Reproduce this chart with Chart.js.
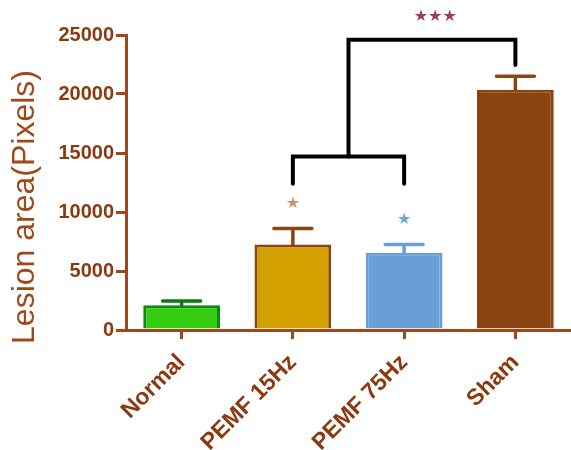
<!DOCTYPE html>
<html>
<head>
<meta charset="utf-8">
<script src="https://cdn.jsdelivr.net/npm/chart.js@4"></script>
<style>
  html, body { margin: 0; padding: 0; background: #fff; }
  #wrap { width: 571px; height: 450px; }
</style>
</head>
<body>
<div id="wrap"><canvas id="lesionChart"></canvas></div>
<script>
// ─── DATA ───
const groups = ['Normal', 'PEMF 15Hz', 'PEMF 75Hz', 'Sham'];
const lesionMean = [2100, 7250, 6550, 20350];
const lesionSem = [350, 1350, 700, 1150];
const yTicks = [0, 5000, 10000, 15000, 20000, 25000];
const yTitle = 'Lesion area(Pixels)';

// significance marks: text, category position, value
const sigLabels = ['★', '★', '★★★'];
const sigPos = [1, 2, 2.28];
const sigValue = [10700, 9350, 26550];

// brackets: [left pos, right pos, bar level, left leg end, right leg end]
const bracketLeft = [1, 1.5];
const bracketRight = [2, 3];
const bracketLevel = [14700, 24600];
const bracketLegLeft = [12400, 14700];
const bracketLegRight = [12400, 22450];

// ─── STYLE ───
const fills = ['#33cc11', '#d4a000', '#6a9fd6', '#8b4513'];
const edges = ['#0c8a10', '#8b4513', '#6a9fd6', '#8b4513'];
const errColors = ['#0c7a10', '#8b4513', '#6a9fd6', '#8b4513'];
const sigColors = ['#c8946a', '#6aa6e0', '#a03a5a'];
const axisColor = '#a0481a';
const textColor = '#8b3a10';

// ─── ERROR BARS, BRACKETS, Y TITLE ───
const extrasPlugin = {
    id: 'extras',
    afterDatasetsDraw(chart) {
        const ctx = chart.ctx;
        const x = chart.scales.x;
        const y = chart.scales.y;
        const bars = chart.getDatasetMeta(0).data;

        ctx.save();
        bars.forEach((bar, i) => {
            const top = y.getPixelForValue(lesionMean[i]);
            const capY = y.getPixelForValue(lesionMean[i] + lesionSem[i]);
            ctx.strokeStyle = errColors[i];
            ctx.lineWidth = 3.5;
            ctx.lineCap = 'round';
            ctx.beginPath();
            ctx.moveTo(bar.x, top);
            ctx.lineTo(bar.x, capY);
            ctx.moveTo(bar.x - 19, capY);
            ctx.lineTo(bar.x + 19, capY);
            ctx.stroke();
        });

        const posPx = p => x.getPixelForValue(0) + p * (x.getPixelForValue(1) - x.getPixelForValue(0));

        ctx.strokeStyle = '#000';
        ctx.lineWidth = 4;
        ctx.lineCap = 'round';
        for (let i = 0; i < bracketLeft.length; i++) {
            const xl = posPx(bracketLeft[i]);
            const xr = posPx(bracketRight[i]);
            const yb = y.getPixelForValue(bracketLevel[i]);
            ctx.beginPath();
            ctx.moveTo(xl, y.getPixelForValue(bracketLegLeft[i]));
            ctx.lineTo(xl, yb);
            ctx.lineTo(xr, yb);
            ctx.lineTo(xr, y.getPixelForValue(bracketLegRight[i]));
            ctx.stroke();
        }

        ctx.font = '16px "DejaVu Sans"';
        ctx.textAlign = 'center';
        ctx.textBaseline = 'middle';
        sigLabels.forEach((s, i) => {
            ctx.fillStyle = sigColors[i];
            ctx.fillText(s, posPx(sigPos[i]), y.getPixelForValue(sigValue[i]));
        });

        // y title sits a bit below the axis middle in the original
        ctx.translate(25, 207);
        ctx.rotate(-Math.PI / 2);
        ctx.font = '32px Arial';
        ctx.fillStyle = axisColor;
        ctx.fillText(yTitle, 0, 0);
        ctx.restore();
    }
};

// ─── CHART ───
const ctx = document.getElementById('lesionChart').getContext('2d');
new Chart(ctx, {
    type: 'bar',
    data: {
        labels: groups,
        datasets: [{
            data: lesionMean,
            backgroundColor: fills,
            borderColor: edges,
            borderWidth: 3,
            borderSkipped: 'bottom',
            barPercentage: 0.69,
            categoryPercentage: 1
        }]
    },
    options: {
        responsive: true,
        maintainAspectRatio: false,
        animation: false,
        layout: { padding: { top: 35, right: 0, left: 0, bottom: 0 } },
        plugins: {
            legend: { display: false },
            tooltip: { enabled: false }
        },
        scales: {
            x: {
                grid: {
                    offset: false,
                    drawOnChartArea: false,
                    color: axisColor,
                    lineWidth: 3,
                    tickLength: 9
                },
                border: { color: axisColor, width: 3 },
                ticks: {
                    color: textColor,
                    font: { family: 'Arial', size: 23, weight: 'bold' },
                    minRotation: 45,
                    maxRotation: 45,
                    padding: 10
                },
                afterFit(scale) { scale.height = 120; }
            },
            y: {
                min: 0,
                max: 25000,
                afterBuildTicks(scale) {
                    scale.ticks = yTicks.map(v => ({ value: v }));
                },
                grid: {
                    drawOnChartArea: false,
                    color: axisColor,
                    lineWidth: 3,
                    tickLength: 10
                },
                border: { color: axisColor, width: 3 },
                ticks: {
                    color: textColor,
                    font: { family: 'Arial', size: 20, weight: 'bold' },
                    padding: 2,
                    callback: v => String(v)
                },
                afterFit(scale) { scale.width = 126; }
            }
        }
    },
    plugins: [extrasPlugin]
});
</script>
</body>
</html>
